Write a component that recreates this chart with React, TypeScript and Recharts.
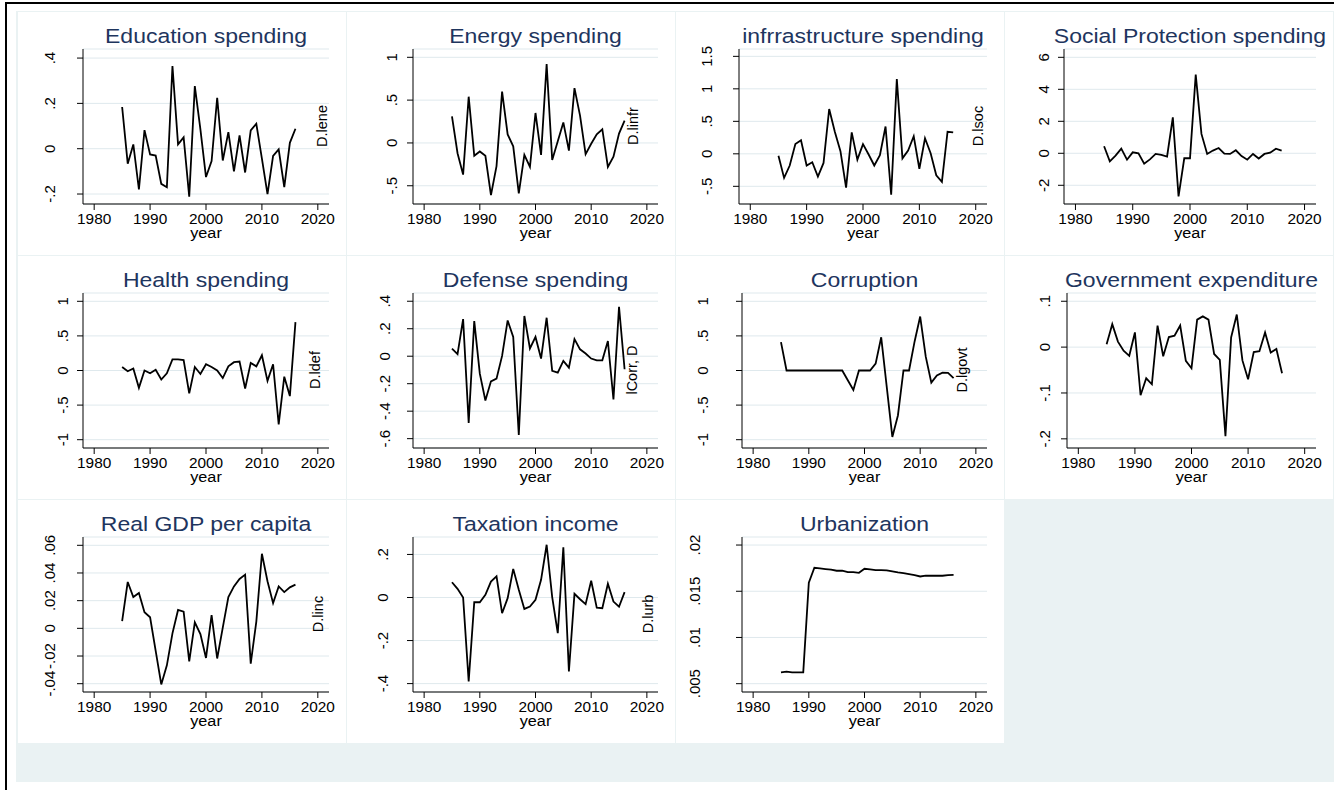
import React from 'react'
import { LineChart, Line, XAxis, YAxis, CartesianGrid } from 'recharts'

const FONT = '"Liberation Sans", Arial, sans-serif'
const BG = '#eaf2f3'
const GRID = '#dfe9ed'
const TITLE = '#1e355e'

// years 1985-2016
const years = [
  1985, 1986, 1987, 1988, 1989, 1990, 1991, 1992, 1993, 1994, 1995, 1996, 1997, 1998, 1999, 2000,
  2001, 2002, 2003, 2004, 2005, 2006, 2007, 2008, 2009, 2010, 2011, 2012, 2013, 2014, 2015, 2016,
]
const xTicks = [1980, 1990, 2000, 2010, 2020]

// series values (first differences)
const education = [0.184, -0.066, 0.019, -0.18, 0.082, -0.025, -0.03, -0.155, -0.17, 0.365, 0.019, 0.05, -0.212, 0.276, 0.085, -0.125, -0.055, 0.225, -0.052, 0.073, -0.1, 0.059, -0.105, 0.081, 0.11, -0.044, -0.2, -0.032, -0.003, -0.17, 0.026, 0.088]
const energy = [0.31, -0.12, -0.37, 0.54, -0.15, -0.1, -0.15, -0.61, -0.27, 0.6, 0.1, -0.04, -0.59, -0.14, -0.28, 0.35, -0.14, 0.92, -0.2, 0.02, 0.24, -0.09, 0.64, 0.32, -0.13, -0.01, 0.1, 0.16, -0.28, -0.16, 0.11, 0.26]
const infrastructure = [-0.03, -0.37, -0.18, 0.15, 0.21, -0.18, -0.13, -0.35, -0.14, 0.69, 0.34, 0.04, -0.52, 0.33, -0.09, 0.15, -0.01, -0.18, -0.02, 0.42, -0.63, 1.15, -0.07, 0.05, 0.27, -0.23, 0.24, 0.01, -0.33, -0.43, 0.34, 0.33]
const socialProtection = [0.44, -0.5, -0.15, 0.29, -0.4, 0.06, 0, -0.65, -0.38, -0.04, -0.1, -0.2, 2.25, -2.69, -0.31, -0.31, 4.92, 1.21, -0.04, 0.17, 0.33, -0.02, -0.04, 0.19, -0.17, -0.4, -0.04, -0.33, -0.04, 0.04, 0.29, 0.17]
const health = [0.05, -0.01, 0.03, -0.25, 0, -0.04, 0.01, -0.13, -0.04, 0.16, 0.16, 0.15, -0.33, 0.05, -0.05, 0.09, 0.05, 0, -0.11, 0.06, 0.12, 0.13, -0.26, 0.11, 0.06, 0.22, -0.15, 0.09, -0.78, -0.09, -0.37, 0.7]
const defense = [0.056, 0.015, 0.27, -0.485, 0.256, -0.127, -0.322, -0.183, -0.163, 0.002, 0.26, 0.14, -0.573, 0.293, 0.056, 0.14, -0.017, 0.28, -0.107, -0.12, -0.034, -0.083, 0.124, 0.05, 0.02, -0.017, -0.03, -0.03, 0.11, -0.315, 0.36, -0.095]
const corruption = [0.41, 0, 0, 0, 0, 0, 0, 0, 0, 0, 0, 0, -0.14, -0.28, 0, 0, 0, 0.1, 0.48, -0.24, -0.96, -0.65, 0, 0, 0.42, 0.78, 0.2, -0.175, -0.07, -0.03, -0.035, -0.11]
const govExpenditure = [0.0065, 0.05, 0.012, -0.008, -0.019, 0.032, -0.105, -0.068, -0.081, 0.047, -0.02, 0.022, 0.025, 0.047, -0.03, -0.046, 0.06, 0.067, 0.06, -0.015, -0.028, -0.194, 0.021, 0.071, -0.029, -0.07, -0.011, -0.009, 0.032, -0.012, -0.004, -0.057]
const gdpPerCapita = [0.0053, 0.0335, 0.0226, 0.0255, 0.0117, 0.008, -0.0163, -0.0405, -0.0267, -0.0036, 0.0133, 0.0121, -0.0238, 0.0044, -0.0041, -0.0214, 0.0095, -0.0218, 0.0005, 0.0226, 0.0303, 0.0357, 0.0388, -0.0255, 0.0049, 0.0539, 0.034, 0.0182, 0.0303, 0.0262, 0.0296, 0.0316]
const taxation = [0.071, 0.04, 0, -0.39, -0.022, -0.022, 0.012, 0.074, 0.098, -0.073, -0.003, 0.133, 0.036, -0.053, -0.042, -0.011, 0.082, 0.245, 0.002, -0.166, 0.233, -0.344, 0.017, -0.008, -0.031, 0.078, -0.047, -0.05, 0.064, -0.019, -0.043, 0.025]
const urbanization = [0.00623, 0.0063, 0.00623, 0.00623, 0.00623, 0.01592, 0.01754, 0.01747, 0.0174, 0.01733, 0.01722, 0.01722, 0.01707, 0.01707, 0.017, 0.01743, 0.01736, 0.01729, 0.01729, 0.01725, 0.01714, 0.01704, 0.01696, 0.01686, 0.01675, 0.0166, 0.01668, 0.01668, 0.01668, 0.01668, 0.01675, 0.01678]

const titles = [
  'Education spending', 'Energy spending', 'infrrastructure spending', 'Social Protection spending',
  'Health spending', 'Defense spending', 'Corruption', 'Government expenditure',
  'Real GDP per capita', 'Taxation income', 'Urbanization',
]
const sideLabels = ['D.lene', 'D.linfr', 'D.lsoc', '', 'D.ldef', 'lCorr, D', 'D.lgovt', '', 'D.linc', 'D.lurb', '']
const series = [education, energy, infrastructure, socialProtection, health, defense, corruption, govExpenditure, gdpPerCapita, taxation, urbanization]
const yTicks = [
  [-0.2, 0, 0.2, 0.4],
  [-0.5, 0, 0.5, 1],
  [-0.5, 0, 0.5, 1, 1.5],
  [-2, 0, 2, 4, 6],
  [-1, -0.5, 0, 0.5, 1],
  [-0.6, -0.4, -0.2, 0, 0.2, 0.4],
  [-1, -0.5, 0, 0.5, 1],
  [-0.2, -0.1, 0, 0.1],
  [-0.04, -0.02, 0, 0.02, 0.04, 0.06],
  [-0.4, -0.2, 0, 0.2],
  [0.005, 0.01, 0.015, 0.02],
]
const yDomains = [
  [-0.244, 0.44],
  [-0.713, 1.097],
  [-0.772, 1.613],
  [-3.17, 6.52],
  [-1.12, 1.12],
  [-0.668, 0.46],
  [-1.12, 1.12],
  [-0.22, 0.118],
  [-0.046, 0.066],
  [-0.439, 0.281],
  [0.0041, 0.02087],
]

// layout per panel: y-axis position, tick label centre, side label position
const layout = [
  { axisW: 65, labelX: 32, sideX: 304 },
  { axisW: 66, labelX: 45, sideX: 286 },
  { axisW: 63, labelX: 31, sideX: 302 },
  { axisW: 59, labelX: 39, sideX: 0 },
  { axisW: 65, labelX: 45, sideX: 297 },
  { axisW: 66, labelX: 38, sideX: 285 },
  { axisW: 66, labelX: 27, sideX: 286 },
  { axisW: 62, labelX: 40, sideX: 0 },
  { axisW: 65, labelX: 32, sideX: 300 },
  { axisW: 66, labelX: 36, sideX: 301 },
  { axisW: 66, labelX: 19, sideX: 0 },
]

const PW = 328
const PH = 243
const RIGHT = 17
const TOP = 37

// Stata style number: .4, -.2, 0
const fmt = (v: number) => String(v).replace(/^(-?)0\./, '$1.')

const XTick = (props: any) => {
  const { x, payload } = props
  return (
    <text transform={`translate(${x} 212) scale(1.1 1)`} textAnchor="middle" fontSize={14} fontFamily={FONT} fill="#000">
      {payload.value}
    </text>
  )
}

function Panel({ idx, left, top }: { idx: number; left: number; top: number }) {
  const lay = layout[idx]
  const values = series[idx]
  const data = years.map((y, i) => ({ year: y, v: values[i] }))
  const cx = (lay.axisW + PW - RIGHT) / 2
  const side = sideLabels[idx]

  return (
    <div style={{ position: 'absolute', left, top, width: PW, height: PH, background: '#fff' }}>
      <LineChart width={PW} height={PH} data={data} margin={{ top: TOP, right: RIGHT, bottom: 0, left: 0 }}>
        <CartesianGrid vertical={false} stroke={GRID} strokeWidth={1} />
        <XAxis
          dataKey="year"
          type="number"
          domain={[1978, 2022]}
          ticks={xTicks}
          interval={0}
          allowDataOverflow
          height={PH - TOP - 155}
          stroke="#000"
          tickSize={6}
          tick={XTick}
        />
        <YAxis
          type="number"
          domain={yDomains[idx]}
          ticks={yTicks[idx]}
          interval={0}
          allowDataOverflow
          width={lay.axisW}
          stroke="#000"
          tickSize={6}
          tick={(t: any) => (
            <text
              transform={`translate(${lay.labelX + 5} ${t.y}) rotate(-90)`}
              textAnchor="middle"
              fontSize={15}
              fontFamily={FONT}
              fill="#000"
            >
              {fmt(t.payload.value)}
            </text>
          )}
        />
        <Line dataKey="v" type="linear" stroke="#000" strokeWidth={1.8} dot={false} isAnimationActive={false} />
      </LineChart>
      <svg width={PW} height={PH} style={{ position: 'absolute', left: 0, top: 0, pointerEvents: 'none' }}>
        <text transform={`translate(${cx} 31) scale(1.18 1)`} textAnchor="middle" fontSize={19.5} fontFamily={FONT} fill={TITLE}>
          {titles[idx]}
        </text>
        <text transform={`translate(${cx} 226) scale(1.12 1)`} textAnchor="middle" fontSize={14.5} fontFamily={FONT} fill="#000">
          year
        </text>
        {side && (
          <text transform={`translate(${lay.sideX + 5} 114) rotate(-90)`} textAnchor="middle" fontSize={14.5} fontFamily={FONT} fill="#000">
            {side}
          </text>
        )}
      </svg>
    </div>
  )
}

export default function App() {
  return (
    <div style={{ position: 'absolute', left: 0, top: 0, width: 1334, height: 790, overflow: 'hidden', background: '#fff' }}>
      <div style={{ position: 'absolute', left: 5, top: 2, width: 1400, height: 900, border: '2px solid #000' }} />
      <div style={{ position: 'absolute', left: 16, top: 11, width: 1330, height: 771, background: BG }} />
      {titles.map((_, i) => (
        <Panel key={i} idx={i} left={18 + (i % 4) * 329} top={12 + Math.floor(i / 4) * 244} />
      ))}
    </div>
  )
}
